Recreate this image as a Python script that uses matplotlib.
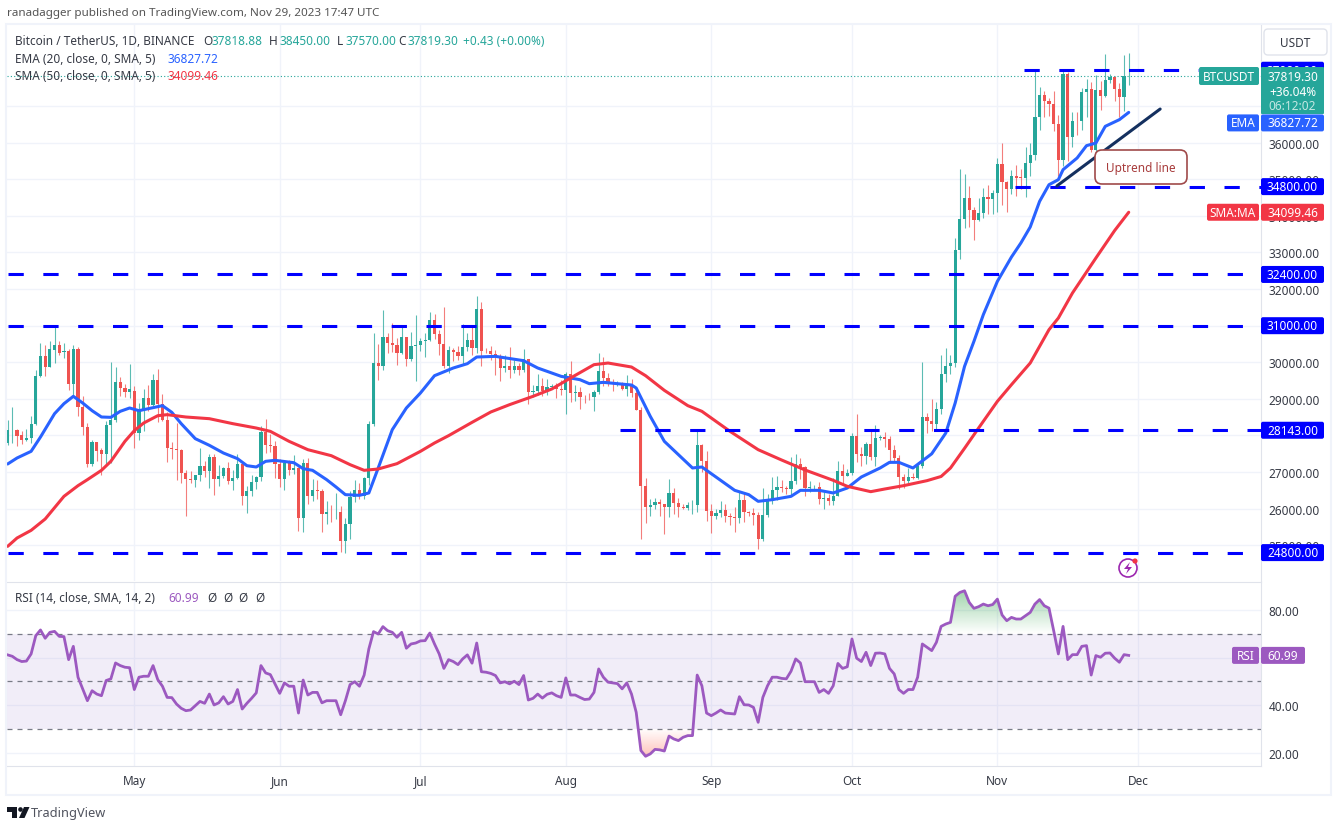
import numpy as np
import matplotlib
matplotlib.use('Agg')
import matplotlib.pyplot as plt
from matplotlib.patches import FancyBboxPatch, Rectangle, Circle, Polygon
from matplotlib.path import Path

plt.rcParams['font.family'] = ['Noto Sans', 'DejaVu Sans']

# daily candles, Apr 4 to Nov 29 2023
opens = [27795, 28140, 28159, 28022, 27886, 27922, 28314, 29616, 30181, 29871,
         30345, 30472, 30281, 30299, 29415, 30363, 28769, 28241, 27230, 27813,
         27594, 27485, 28300, 28420, 29450, 29310, 29200,
         29228, 28068, 28669, 29026, 28838, 29506, 28848, 28430, 27668, 27628,
         27598, 26968, 26805, 26784, 26930, 27172, 27033, 27405, 26822, 26890,
         27102, 26747, 26849, 27226, 26334, 26476, 26719, 26868, 28085, 27745, 27702,
         27219, 26819, 27249, 27069, 27115, 25732, 27235, 26346, 26498, 26477,
         25842, 25922, 25896, 25902, 25128, 25582, 26327, 26511, 26336, 26841,
         28308, 29994, 29885, 30688, 30527, 30462, 30267, 30692, 30077, 30445,
         30472, 30585, 30617, 31156, 30767, 30504, 29895, 30344, 30284, 30169,
         30411, 30619, 30380, 31449, 30315, 30298, 30232, 30139, 29857, 29910,
         29800, 29902, 29791, 30082, 29176, 29228, 29354, 29213, 29316, 29355, 29275,
         29230, 29675, 29152, 29176, 29065, 29042, 29041, 29180, 29765, 29561,
         29429, 29397, 29415, 29282, 29408, 29170, 28701, 26623, 26049, 26096,
         26189, 26124, 26040, 26431, 26163, 26056, 26008, 26089, 26106, 27727, 27297,
         25941, 25805, 25869, 25969, 25812, 25780, 25753, 26240, 25905, 25895,
         25832, 25162, 25840, 26222, 26522, 26600, 26568, 26527, 26762, 27211,
         27132, 26568, 26580, 26580, 26256, 26298, 26217, 26352, 27021, 26906,
         26962, 27983, 27494, 27426, 27778, 27412, 27931, 27956, 27917, 27590,
         27391, 26875, 26756, 26862, 26852, 27154, 28500, 28395, 28320, 28713,
         29669, 29909, 29992, 33069, 33922, 34496, 34151, 33892, 34081, 34525, 34474,
         34639, 35421, 34938, 34732, 35082, 35049, 35037, 35443, 35655, 36693,
         37313, 37138, 37054, 36502, 35537, 37880, 36154, 36596, 36585, 37386,
         37476, 35813, 37432, 37289, 37721, 37796, 37479, 37254, 37818.88]
highs = [28432, 28778, 28177, 28113, 28177, 28523, 29780, 30527, 30481, 30572,
         30982, 30581, 30527, 30350, 30481, 30408, 29070, 28341, 27886, 27822,
         27658, 28386, 30007, 29870, 29598, 29400, 29960,
         29340, 28879, 29266, 29379, 29677, 29820, 29138, 28631, 27820, 28331,
         27638, 27055, 27030, 26886, 27666, 27299, 27500, 27485, 27183, 27150,
         27277, 27055, 27495, 27260, 26631, 26932, 26895, 28261, 28447, 28050, 27836,
         27350, 27300, 27340, 27455, 27130, 27355, 27391, 26800, 26783, 26531,
         26209, 26100, 26433, 26073, 25750, 26486, 26774, 26700, 26872, 28402,
         30800, 30500, 31431, 30800, 31060, 30666, 31000, 30703, 30834, 31282,
         30661, 30791, 31375, 31325, 30888, 31500, 30448, 30386, 30445, 31045,
         30813, 30983, 31818, 31645, 30390, 30456, 30336, 30233, 30189, 30417,
         30050, 29990, 30350, 30098, 29376, 29690, 29575, 29530, 29415, 29447, 29528,
         29740, 30047, 29375, 29315, 29115, 29170, 29244, 30244, 30150, 29700,
         29543, 29480, 29469, 29660, 29530, 29230, 28785, 26832, 26260, 26300,
         26258, 26139, 26808, 26554, 26300, 26125, 26182, 26234, 28142, 27760, 27580,
         26125, 25985, 26200, 26116, 25888, 26050, 26445, 26433, 25945, 26022,
         25900, 26567, 26400, 26860, 26888, 26777, 26625, 27409, 27488, 27377,
         27157, 26743, 26641, 26738, 26446, 26399, 26837, 27300, 27227, 27088,
         28060, 28580, 27680, 27825, 28120, 28285, 28000, 28100, 27987, 27735,
         27479, 26947, 27100, 26982, 27289, 30000, 28613, 28990, 28920, 30207,
         30380, 30200, 33400, 35280, 35132, 34824, 34245, 34476, 34750, 34856, 34720,
         35579, 35984, 34946, 35258, 35380, 35284, 35890, 35980, 37972, 37526,
         37404, 37222, 37405, 36760, 37980, 37930, 36850, 36845, 37500, 37750,
         37655, 37856, 37680, 38414, 37890, 37820, 37620, 38400, 38450]
lows = [27749, 27795, 27722, 27776, 27858, 27795, 28295, 29589, 29634, 29871,
        29980, 30190, 30117, 29252, 29115, 28541, 28022, 27130, 27157, 27294,
        26930, 27203, 27250, 28380, 29070, 29050, 29033,
        27660, 27872, 28120, 28669, 28800, 28377, 28395, 27262, 27353, 26777,
        26708, 25811, 26692, 26600, 26746, 26863, 26555, 26361, 26630, 26829,
        26666, 26510, 26798, 26087, 25871, 26334, 26551, 26770, 27524, 27562, 26841,
        26603, 26505, 26920, 26951, 25388, 25351, 26119, 26205, 26271, 25350,
        25570, 25634, 25711, 24820, 24800, 25158, 26186, 26252, 26256, 26650,
        28257, 29525, 29800, 30250, 30270, 29936, 30224, 29900, 30044, 29500,
        30320, 30155, 30580, 30636, 30200, 29850, 29700, 30044, 30050, 29950,
        30300, 30200, 30254, 29900, 30250, 30070, 29659, 29500, 29741, 29565,
        29720, 29640, 29730, 28861, 29047, 29096, 29070, 29110, 29263, 29033, 29102,
        28585, 28920, 28947, 28729, 28900, 28960, 28657, 29139, 29350, 29355,
        29225, 29345, 29235, 29090, 29056, 28701, 25166, 25620, 25812, 26004,
        25812, 25300, 25777, 25852, 25765, 25985, 25965, 25860, 25919, 27015, 25655,
        25333, 25720, 25760, 25625, 25565, 25371, 25615, 25645, 25804, 25565,
        24901, 25130, 25766, 26124, 26224, 26445, 26399, 26377, 26674, 26800,
        26351, 26468, 26503, 26122, 26000, 26100, 26112, 26339, 26663, 26890,
        26930, 27280, 27159, 27215, 27333, 27176, 27870, 27686, 27260, 27298,
        26538, 26560, 26696, 26800, 26800, 27112, 28069, 28120, 28178, 28582,
        29465, 29675, 29883, 32832, 33679, 33684, 33335, 33860, 33930, 34062, 34060,
        34116, 34300, 34100, 34586, 34531, 34730, 34521, 35100, 35534, 36341,
        36712, 36731, 36333, 35100, 35360, 35500, 35870, 36200, 36353, 36700,
        35750, 35670, 36880, 37251, 37625, 37150, 36700, 36868, 37570]
closes = [28159, 28159, 27995, 27886, 27931, 28323, 29616, 30181, 29871, 30363,
          30463, 30253, 30308, 29406, 30363, 28769, 28223, 27230, 27822, 27567,
          27485, 28295, 28420, 29470, 29310, 29200, 29268,
          28068, 28669, 29026, 28838, 29506, 28848, 28430, 27668, 27628, 27598,
          26968, 26805, 26784, 26930, 27172, 27033, 27405, 26822, 26890, 27102,
          26747, 26849, 27226, 26334, 26476, 26719, 26868, 28085, 27745, 27702, 27219,
          26819, 27249, 27069, 27115, 25732, 27235, 26346, 26498, 26477, 25842,
          25922, 25896, 25902, 25128, 25582, 26327, 26511, 26336, 26841, 28308,
          29994, 29885, 30688, 30527, 30462, 30267, 30692, 30077, 30445, 30472,
          30585, 30617, 31156, 30767, 30504, 29895, 30344, 30284, 30169, 30411,
          30619, 30380, 31449, 30315, 30298, 30232, 30139, 29857, 29910, 29800,
          29902, 29791, 30082, 29176, 29228, 29354, 29213, 29316, 29355, 29275, 29230,
          29675, 29152, 29176, 29065, 29042, 29041, 29180, 29765, 29561, 29429,
          29397, 29415, 29282, 29408, 29170, 28701, 26623, 26049, 26096, 26189,
          26124, 26040, 26431, 26163, 26056, 26008, 26089, 26106, 27727, 27297, 25941,
          25805, 25869, 25969, 25812, 25780, 25753, 26240, 25905, 25895, 25832,
          25162, 25840, 26222, 26522, 26600, 26568, 26527, 26762, 27211, 27132,
          26568, 26580, 26580, 26256, 26298, 26217, 26352, 27021, 26906, 26962,
          27983, 27494, 27426, 27778, 27412, 27931, 27956, 27917, 27590, 27391,
          26875, 26756, 26862, 26852, 27154, 28500, 28395, 28320, 28713, 29669,
          29909, 29992, 33069, 33922, 34496, 34151, 33892, 34081, 34525, 34474, 34639,
          35421, 34938, 34732, 35082, 35049, 35037, 35443, 35655, 36693, 37313,
          37138, 37054, 36502, 35537, 37880, 36154, 36596, 36585, 37386, 37476,
          35813, 37432, 37289, 37721, 37796, 37479, 37254, 37818.88, 37819.30]

# moving averages, read at the day numbers below (day 0 = Apr 4)
ema_days = [0, 2, 5, 7, 10, 12, 14, 16, 18, 20, 22, 24, 26, 28, 30, 33, 35, 37, 40, 43,
            46, 49, 51, 53, 55, 57, 61, 63, 65, 68, 70, 72, 75, 77, 79, 82, 85, 88, 91,
            95, 98, 100, 104, 110, 113, 118, 122, 124, 127, 133, 134, 137, 140, 146,
            148, 151, 155, 158, 160, 163, 167, 169, 173, 176, 179, 182, 186, 188, 190,
            193, 197, 200, 202, 204, 206, 208, 211, 214, 216, 218, 220, 222, 224, 225,
            228, 230, 232, 234, 237, 239]
ema_vals = [27221, 27385, 27567, 27958, 28596, 28869, 29070, 28887, 28678, 28505, 28496,
            28660, 28751, 28678, 28733, 28815, 28632, 28323, 27913, 27731, 27521, 27367,
            27175, 27139, 27294, 27321, 27257, 27093, 27048, 26793, 26593, 26383, 26365,
            26429, 27112, 28159, 28751, 29161, 29634, 29844, 29962, 30144, 30162, 30044,
            29844, 29616, 29525, 29416, 29452, 29379, 29297, 28523, 27840, 27112, 27139,
            26866, 26501, 26383, 26201, 26246, 26337, 26501, 26501, 26429, 26565, 26866,
            27112, 27266, 27266, 27112, 27500, 28067, 28887, 29889, 30572, 31300, 32211,
            32876, 33258, 33696, 34397, 34852, 34990, 35263, 35582, 35919, 35991, 36447,
            36629, 36827.72]
sma_days = [0, 2, 5, 8, 12, 15, 17, 20, 22, 25, 27, 29, 32, 34, 38, 43, 48, 53, 56, 60,
            64, 69, 73, 76, 79, 83, 88, 91, 94, 99, 103, 107, 112, 116, 120, 125, 128,
            133, 136, 140, 145, 148, 154, 160, 165, 170, 176, 179, 184, 187, 191, 196,
            199, 201, 204, 207, 211, 214, 218, 222, 224, 227, 232, 236, 239]
sma_vals = [24971, 25199, 25408, 25718, 26337, 26629, 26793, 27048, 27294, 27840, 28132,
            28341, 28541, 28569, 28505, 28459, 28323, 28204, 28113, 27840, 27612, 27448,
            27203, 27048, 27084, 27230, 27567, 27795, 27995, 28359, 28642, 28842, 29070,
            29270, 29570, 29935, 29980, 29871, 29634, 29233, 28815, 28660, 28113, 27612,
            27330, 27057, 26775, 26611, 26465, 26538, 26629, 26766, 26880, 27111, 27650,
            28204, 28933, 29388, 29980, 30891, 31209, 31892, 32849, 33600, 34099.46]

rsi = [61.2, 60.6, 59.2, 58.4, 58.6, 61.6, 69.3, 71.7, 68.2, 70.7, 71.1, 69.0, 68.9, 59.2,
       64.8, 51.8, 46.8, 41.9, 46.1, 44.7, 44.0, 50.4, 51.1, 57.8, 56.7, 56.0, 55.8,
       46.6, 51.8, 52.2, 52.2, 56.7, 50.8, 48.0, 43.3, 43.2, 40.5, 38.7, 37.7, 38.0, 39.8,
       41.6, 40.8, 44.7, 40.1, 41.0, 43.6, 40.5, 41.6, 46.6, 38.4, 40.8, 42.9, 45.2, 56.7,
       53.6, 52.9, 49.0, 45.0, 49.4, 48.0, 48.0, 36.7, 50.6, 44.3, 45.4, 45.4, 41.0, 41.9,
       41.9, 41.9, 36.0, 41.9, 48.7, 49.9, 48.0, 52.7, 63.7, 71.0, 70.0, 73.1, 71.4, 70.7,
       68.6, 70.7, 64.0, 65.8, 66.2, 67.1, 67.2, 70.4, 65.8, 61.6, 55.5, 59.2, 58.4, 57.1,
       59.5, 61.2, 57.7, 66.2, 54.1, 53.9, 53.4, 52.5, 49.4, 49.9, 49.0, 50.1, 48.7, 52.5,
       42.2, 42.9, 44.7, 43.0, 44.6, 45.2, 44.0, 43.3, 51.5, 44.3, 44.3, 43.3, 42.4, 42.6,
       45.4, 55.3, 51.8, 49.7, 49.4, 49.1, 46.9, 49.4, 44.7, 37.0, 20.9, 18.5, 19.5, 21.4,
       21.2, 20.7, 27.0,
       25.8, 25.1, 26.5, 27.2, 27.2, 52.7, 48.2, 36.7, 35.6, 36.7, 38.0, 36.7, 36.5, 36.3,
       43.6, 40.2, 40.1, 39.1, 32.8, 43.3, 48.2, 51.8, 51.8, 51.3, 51.1, 54.3, 59.5, 57.8,
       49.9, 49.9, 49.9, 45.4, 46.6, 45.0, 48.2, 57.6, 55.5, 56.2, 67.9, 59.8, 58.4, 62.3,
       56.7, 61.9, 62.0, 61.6, 55.5, 53.2, 46.6, 45.0, 46.6, 46.6, 51.8, 65.8, 64.4, 63.0,
       66.5, 73.2, 74.2, 74.9, 85.9, 87.5, 88.2, 83.3, 80.8, 81.5, 82.6, 81.9, 82.4, 84.7,
       78.0, 75.6, 77.0, 76.3, 76.3, 77.7, 79.1, 82.6, 84.5, 81.9, 80.9, 71.4, 61.6, 73.2,
       59.2, 61.3, 61.3, 64.8, 65.1, 52.7, 60.9, 60.2, 61.9, 62.0, 59.8, 58.1, 61.3, 60.99]

# horizontal levels and the day each one starts on
levels = [37980, 34800, 32400, 31000, 28143, 24800]
level_starts = [216.7, 214.8, 0, 0, 130.6, 0]
trend_days = [223.7, 245.7]
trend_vals = [34820, 36920]

price_ticks = list(range(25000, 38000, 1000))
hidden_prices = [28000, 37000]  # sit under the value tags
rsi_ticks = [20, 40, 60, 80]
month_days = [27, 58, 88, 119, 150, 180, 211, 241]
month_names = ['May', 'Jun', 'Jul', 'Aug', 'Sep', 'Oct', 'Nov', 'Dec']

W, H = 1340, 829
GREEN, RED, BLUE, MA_RED, PURPLE = '#26a69a', '#ef5350', '#2962ff', '#f23645', '#9c59c0'
GRID, TEXT = '#f0f3fa', '#363a45'
FS = 8.5


def pane(x0, y0, x1, y1):
    return fig.add_axes([x0/W, 1 - y1/H, (x1-x0)/W, (y1-y0)/H])


fig = plt.figure(figsize=(W/100, H/100), dpi=100, facecolor='white')
ax = pane(7, 26, 1261, 582)
ax2 = pane(7, 583, 1261, 767)
for a in (ax, ax2):
    a.set_xlim(-0.14, 267.2)
    a.set_xticks(month_days)
    a.grid(True, color=GRID, lw=1)
    a.set_axisbelow(True)
    a.yaxis.tick_right()
    for s in a.spines.values():
        s.set_visible(False)
    a.spines['right'].set_visible(True)
    a.spines['right'].set_color('#e0e3eb')
    a.tick_params(length=0, labelsize=FS, labelcolor=TEXT, pad=5.5)
ax.set_ylim(24024, 39216)
ax2.set_ylim(14.4, 91.9)
ax.set_yticks(price_ticks, ['' if p in hidden_prices else '%.2f' % p for p in price_ticks])
ax.tick_params(labelbottom=False)
ax2.set_yticks(rsi_ticks, ['' if r == 60 else '%.2f' % r for r in rsi_ticks])
ax2.set_xticks(month_days, month_names)
ax2.spines['bottom'].set_visible(True)
ax2.spines['bottom'].set_color('#e0e3eb')
ax2.spines['top'].set_visible(True)
ax2.spines['top'].set_color('#e0e3eb')
ax2.tick_params(axis='x', pad=6)

# candles
days = np.arange(len(closes))
o, h, l, c = map(np.array, (opens, highs, lows, closes))
colors = np.where(c >= o, GREEN, RED)
ax.vlines(days, l, h, colors=colors, lw=0.8, alpha=0.75, zorder=2)
ax.bar(days, np.maximum(np.abs(c - o), 15), bottom=np.minimum(o, c), width=0.68,
       color=colors, zorder=3)

ax.plot(ema_days, ema_vals, color=BLUE, lw=2.2, zorder=4, solid_capstyle='round')
ax.plot(sma_days, sma_vals, color=MA_RED, lw=2.2, zorder=4, solid_capstyle='round')
ax.axhline(closes[-1], color=GREEN, lw=0.8, ls=(0, (1, 2)), zorder=3)
for lev, start in zip(levels, level_starts):
    ax.plot([start, 267.2], [lev, lev], color='#0000ff', lw=2.2, ls=(0, (5, 6.4)), zorder=5)
ax.plot(trend_days, trend_vals, color='#14305f', lw=2.2, zorder=6, solid_capstyle='round')

# rsi pane
rsi = np.array(rsi)
rdays = np.arange(len(rsi))
ax2.axhspan(30, 70, color='#7e57c2', alpha=0.1, lw=0, zorder=1)
for lev in (70, 50, 30):
    ax2.axhline(lev, color='#787b86', lw=0.9, ls=(0, (4, 4)), zorder=2)


def gradient(mask, base, far, rgb, a_max):
    poly = ax2.fill_between(rdays, rsi, base, where=mask, interpolate=True, color='none')
    clip = Path.make_compound_path(*poly.get_paths())
    ramp = np.zeros((64, 2, 4))
    ramp[..., :3] = np.array(rgb)/255
    ramp[..., 3] = np.linspace(a_max, 0, 64)[:, None]
    lo, hi = (base, far) if far > base else (far, base)
    im = ax2.imshow(ramp, extent=[0, len(rsi), lo, hi], aspect='auto', zorder=2,
                    origin='upper' if far > base else 'lower')
    im.set_clip_path(clip, transform=ax2.transData)


gradient(rsi >= 70, 70, 89, (56, 165, 80), 0.5)
gradient(rsi <= 30, 30, 18, (255, 100, 80), 0.4)
ax2.set_xlim(-0.14, 267.2)
ax2.set_ylim(14.4, 91.9)
ax2.plot(rdays, rsi, color=PURPLE, lw=2, zorder=4)

# overlay for the chrome, in pixels from the top left
top = fig.add_axes([0, 0, 1, 1], zorder=10)
top.set_xlim(0, W)
top.set_ylim(H, 0)
top.axis('off')
top.patch.set_visible(False)
top.add_patch(Rectangle((6, 25), 1325, 771, fc='none', ec=GRID, lw=1.5))

layer = [5]  # later tags go over earlier ones, text included


def txt(x, y, s, color=TEXT, size=FS, ha='left'):
    layer[0] += 1
    top.text(x, y, s, color=color, fontsize=size, ha=ha, va='center', zorder=layer[0])


def box(x0, y0, x1, y1, fc, ec=None, r=2, lw=0):
    layer[0] += 1
    top.add_patch(FancyBboxPatch((x0, y0), x1-x0, y1-y0, boxstyle='round,pad=0,rounding_size=%g' % r,
                                 fc=fc, ec=ec or fc, lw=lw, zorder=layer[0]))


def price_y(a, v):
    return H - a.transData.transform((0, v))[1]


def value_tag(a, v, s, color, right=1324, label=None, label_x=None, shift=0):
    y = price_y(a, v) + shift
    box(1261, y-8.5, right, y+8.5, color)
    txt((1261+right)/2, y, s, 'white', ha='center')
    if label:
        box(label_x, y-8.5, 1259, y+8.5, color)
        txt((label_x+1259)/2, y, label, 'white', ha='center')


for lev in levels:
    value_tag(ax, lev, '%.2f' % lev, '#0000ff')
value_tag(ax, sma_vals[-1], '%.2f' % sma_vals[-1], MA_RED, label='SMA:MA', label_x=1207)
value_tag(ax2, rsi[-1], '%.2f' % rsi[-1], PURPLE, right=1305, label='RSI', label_x=1232)

# last price block
close_y = price_y(ax, closes[-1])
box(1261, 68, 1324, 115, GREEN, r=1)
txt(1292.5, close_y, '%.2f' % closes[-1], 'white', ha='center')
txt(1292.5, 92, '+36.04%', 'white', ha='center')
txt(1292.5, 106, '06:12:02', '#c4e8e3', ha='center')
box(1199, 68, 1259, 86, GREEN)
txt(1229, close_y, 'BTCUSDT', 'white', ha='center')
# the ema tag is pushed down below the block
value_tag(ax, ema_vals[-1], '%.2f' % ema_vals[-1], BLUE, label='EMA', label_x=1227, shift=10.5)

box(1264, 30, 1327, 56, 'white', '#e0e3eb', r=4, lw=1)
txt(1295, 43, 'USDT', ha='center')

box(1095, 151, 1187, 185, 'white', '#a04a4a', r=7, lw=1.2)
txt(1141, 168, 'Uptrend line', '#a83c3c', ha='center')

# header and legends
txt(7, 13, 'ranadagger published on TradingView.com, Nov 29, 2023 17:47 UTC', '#555555', 8.4)
txt(15, 41, 'Bitcoin / TetherUS, 1D, BINANCE')
for lab, val, x0, x1 in [('O', '37818.88', 203, 212), ('H', '38450.00', 269, 279),
                         ('L', '37570.00', 337, 345), ('C', '37819.30', 398, 407)]:
    txt(x0, 41, lab)
    txt(x1, 41, val, GREEN)
txt(463, 41, '+0.43 (+0.00%)', GREEN)
txt(15, 59, 'EMA (20, close, 0, SMA, 5)')
txt(168, 59, '36827.72', BLUE)
txt(15, 76.5, 'SMA (50, close, 0, SMA, 5)')
txt(167, 76.5, '34099.46', MA_RED)
txt(15, 598, 'RSI (14, close, SMA, 14, 2)')
txt(168, 598, '60.99', PURPLE)
for x in (207, 223, 238, 255):
    txt(x, 598, '\u00d8')

# lightning marker
top.add_patch(Circle((1128, 569), 9, fc='white', ec='#9c27b0', lw=1.2))
top.add_patch(Polygon([(1130, 563), (1124, 570), (1128, 570), (1126, 575), (1132, 568), (1128, 568)],
                      fc='#9c27b0', ec='none'))
top.add_patch(Circle((1135, 562), 2.6, fc=MA_RED, ec='none'))

# logo
top.add_patch(Polygon([(7, 808), (17, 808), (17, 819), (12, 819), (12, 813), (7, 813)], fc='#131722', ec='none'))
top.add_patch(Circle((20.5, 810.5), 2.3, fc='#131722', ec='none'))
top.add_patch(Polygon([(24, 808), (29.5, 808), (24.5, 819), (19, 819)], fc='#131722', ec='none'))
txt(31, 813.5, 'TradingView', '#50535e', 9.2)

fig.savefig('out.png', dpi=100)
